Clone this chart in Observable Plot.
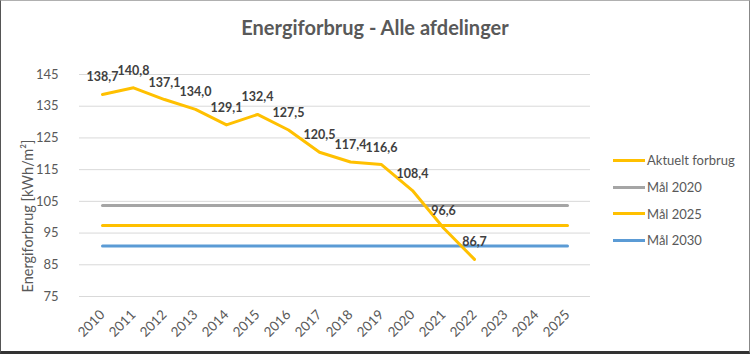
<!DOCTYPE html>
<html>
<head>
<meta charset="utf-8">
<script src="https://cdn.jsdelivr.net/npm/d3@7"></script>
<script src="https://cdn.jsdelivr.net/npm/@observablehq/plot@0.6"></script>
<style>
  html, body { margin: 0; padding: 0; background: #fff; }
  #wrap { position: relative; width: 750px; height: 354px; overflow: hidden; font-family: Lato, "Open Sans", sans-serif; background:#fff; }
  #title { position: absolute; left: 0; top: 0; width: 750px; height: 50px; line-height: 54px; text-align: center; font-weight: bold; font-size: 20px; color: #595959; }
  #chart { position: absolute; left: 0; top: 50px; }
  #ytitle { position: absolute; left: 27px; top: 216px; transform: translate(-50%, -50%) rotate(-90deg); white-space: nowrap; font-size: 14.5px; color: #595959; }
  #legend { position: absolute; left: 613px; top: 147px; font-size: 13px; color: #595959; }
  .li { display: flex; align-items: center; height: 26.7px; }
  .sw { width: 32px; height: 3px; margin-right: 2px; }
  #frame { position: absolute; inset: 0; box-sizing: border-box; border-top: 1px solid #b0b0b0; border-left: 1px solid #555; border-right: 1px solid #888; border-bottom: 3px solid #333; pointer-events: none; }
</style>
</head>
<body>
<div id="wrap">
  <div id="title">Energiforbrug - Alle afdelinger</div>
  <div id="chart"></div>
  <div id="ytitle">Energiforbrug [kWh/m²]</div>
  <div id="legend"></div>
  <div id="frame"></div>
</div>
<script>
const years = [2010,2011,2012,2013,2014,2015,2016,2017,2018,2019,2020,2021,2022,2023,2024,2025];
const actualYears = [2010,2011,2012,2013,2014,2015,2016,2017,2018,2019,2020,2021,2022];
const actualValues = [138.7,140.8,137.1,134.0,129.1,132.4,127.5,120.5,117.4,116.6,108.4,96.6,86.7];
const goalNames = ["Mål 2020","Mål 2025","Mål 2030"];
const goalValues = [103.7,97.4,90.9];
const yTicks = [75,85,95,105,115,125,135,145];
const seriesNames = ["Aktuelt forbrug","Mål 2020","Mål 2025","Mål 2030"];
const seriesColors = ["#FFC000","#A5A5A5","#FFC000","#5B9BD5"];

const actual = actualYears.map((year, i) => ({year, value: actualValues[i]}));
const goals = goalNames.flatMap((name, i) => years.map(year => ({name, year, value: goalValues[i]})));
const fmt = v => d3.format(".1f")(v).replace(".", ",");

const plot = Plot.plot({
  width: 750,
  height: 304,
  marginLeft: 79,
  marginRight: 160,
  marginTop: 24,
  marginBottom: 58,
  style: {fontFamily: "Lato, 'Open Sans', sans-serif", background: "transparent"},
  x: {type: "point", domain: years, padding: 0.5},
  y: {domain: [75, 145]},
  color: {domain: seriesNames, range: seriesColors},
  marks: [
    Plot.gridY(yTicks, {stroke: "#d9d9d9", strokeOpacity: 1, strokeWidth: 1}),
    Plot.axisY(yTicks, {tickSize: 0, tickPadding: 21, fontSize: 13, fill: "#595959", label: null}),
    Plot.axisX(years, {tickSize: 0, tickPadding: 16, tickRotate: -45, fontSize: 13.5, fill: "#595959", label: null, tickFormat: d => String(d)}),
    Plot.line(goals, {x: "year", y: "value", z: "name", stroke: "name", strokeWidth: 3}),
    Plot.line(actual, {x: "year", y: "value", stroke: () => "Aktuelt forbrug", strokeWidth: 3, strokeLinejoin: "round"}),
    Plot.text(actual, {x: "year", y: "value", text: d => fmt(d.value), dy: -17, fontWeight: "bold", fontSize: 12.5, fill: "#404040"})
  ]
});
document.getElementById("chart").appendChild(plot);

const legend = document.getElementById("legend");
seriesNames.forEach((name, i) => {
  const row = document.createElement("div");
  row.className = "li";
  const sw = document.createElement("span");
  sw.className = "sw";
  sw.style.background = seriesColors[i];
  const t = document.createElement("span");
  t.textContent = name;
  row.appendChild(sw); row.appendChild(t);
  legend.appendChild(row);
});
</script>
</body>
</html>
